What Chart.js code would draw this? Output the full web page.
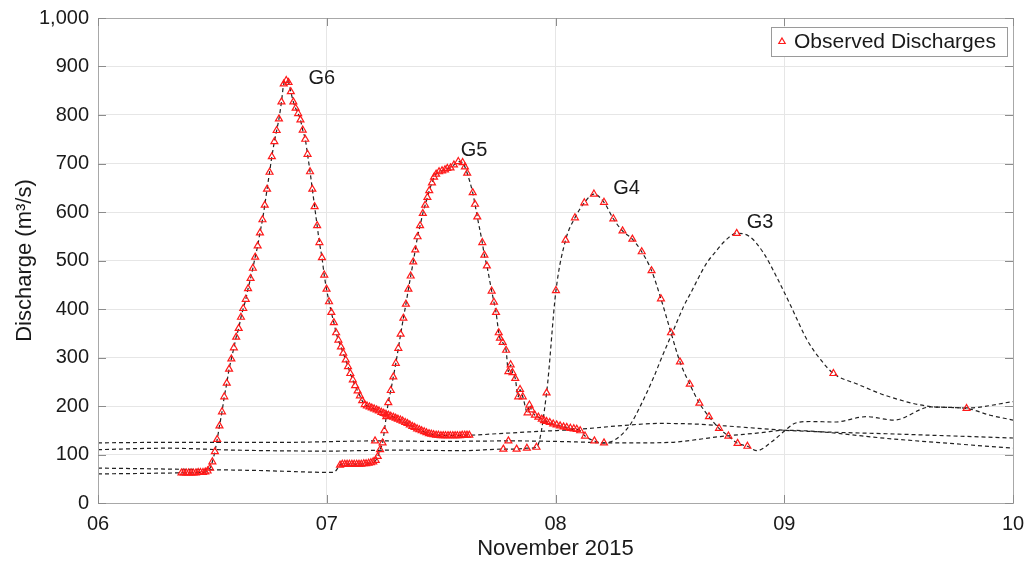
<!DOCTYPE html>
<html>
<head>
<meta charset="utf-8">
<script src="https://cdn.jsdelivr.net/npm/chart.js@4.4.1/dist/chart.umd.min.js"></script>
<style>
  html, body { margin: 0; padding: 0; background: #fff; }
  #wrap { width: 1028px; height: 562px; }
</style>
</head>
<body>
<div id="wrap"><canvas id="hydroChart" width="1028" height="562"></canvas></div>
<script>
// observed discharges, time in days of November 2015
const obsG6Time = [
  6.365, 6.375, 6.386, 6.396, 6.407, 6.417, 6.428, 6.438, 6.448, 6.459,
  6.469, 6.479, 6.490, 6.500, 6.511, 6.521, 6.531, 6.542, 6.552, 6.563,
  6.573, 6.583, 6.594, 6.604, 6.615, 6.625, 6.635, 6.646, 6.656, 6.667,
  6.677, 6.687, 6.698, 6.708, 6.719, 6.729, 6.739, 6.750, 6.760, 6.771,
  6.781, 6.791, 6.802, 6.812, 6.823, 6.833, 6.843, 6.854, 6.864, 6.875,
  6.885, 6.895, 6.906, 6.916, 6.927, 6.937, 6.947, 6.958, 6.968, 6.979,
  6.989, 6.999, 7.010, 7.020, 7.031, 7.041, 7.051, 7.062, 7.072, 7.083,
  7.093, 7.103, 7.114, 7.124, 7.135, 7.145, 7.155, 7.166, 7.176, 7.187,
  7.197, 7.207, 7.218, 7.228, 7.239, 7.249, 7.259, 7.270, 7.280, 7.291,
  7.301, 7.311, 7.322, 7.332, 7.343, 7.353, 7.363, 7.374, 7.384, 7.395,
  7.405, 7.415, 7.426, 7.436, 7.447, 7.457, 7.467, 7.478, 7.488, 7.499,
  7.509, 7.519, 7.530, 7.540, 7.551, 7.561, 7.571, 7.582, 7.592, 7.603,
  7.613, 7.623
];
const obsG6Flow = [
  62, 62, 62, 62, 62, 62, 62, 63, 63, 63,
  64, 66, 72, 85, 106, 131, 159, 188, 219, 247,
  276, 297, 320, 342, 360, 383, 401, 420, 442, 463,
  484, 507, 530, 557, 584, 614, 647, 682, 714, 745,
  768, 792, 827, 864, 871, 867, 848, 827, 814, 803,
  790, 769, 750, 719, 683, 647, 611, 572, 537, 506,
  470, 441, 415, 393, 372, 351, 336, 322, 309, 295,
  281, 267, 254, 242, 231, 221, 211, 203, 200, 198,
  196, 194, 192, 190, 187, 185, 183, 181, 179, 177,
  175, 173, 171, 169, 166, 164, 161, 158, 156, 153,
  151, 149, 147, 145, 143, 142, 141, 140, 140, 139,
  139, 139, 139, 139, 139, 139, 139, 139, 140, 140,
  140, 140
];

const obsG5Time = [
  7.058, 7.068, 7.079, 7.089, 7.099, 7.110, 7.120, 7.131, 7.141, 7.151,
  7.162, 7.172, 7.183, 7.193, 7.203, 7.214, 7.223, 7.233, 7.244, 7.252,
  7.260, 7.269, 7.280, 7.291, 7.302, 7.313, 7.323, 7.335, 7.346, 7.357,
  7.367, 7.378, 7.387, 7.397, 7.408, 7.420, 7.430, 7.440, 7.448, 7.460,
  7.469, 7.478, 7.491, 7.504, 7.517, 7.527, 7.541, 7.556, 7.575, 7.594,
  7.604, 7.614, 7.638, 7.648, 7.658, 7.680, 7.689, 7.700, 7.721, 7.731,
  7.740, 7.752, 7.757, 7.769, 7.784, 7.794, 7.804, 7.812, 7.824, 7.837,
  7.845, 7.857, 7.878, 7.886, 7.895, 7.910, 7.925, 7.940, 7.950, 7.961,
  7.975, 7.990, 8.005, 8.020, 8.035, 8.049, 8.065, 8.080, 8.093, 8.108,
  8.129, 8.170, 8.212
];
const obsG5Flow = [
  78, 80, 80, 80, 80, 80, 80, 80, 80, 80,
  81, 81, 82, 83, 85, 88, 96, 110, 124, 149,
  178, 207, 232, 260, 288, 319, 348, 381, 410, 441,
  468, 497, 522, 549, 572, 597, 614, 630, 644, 660,
  672, 678, 683, 685, 687, 690, 691, 697, 704, 702,
  693, 680, 640, 616, 590, 537, 511, 489, 437, 414,
  393, 351, 340, 331, 315, 271, 285, 269, 257, 219,
  234, 219, 186, 202, 192, 181, 177, 173, 170, 168,
  166, 163, 161, 159, 157, 156, 154, 153, 152, 149,
  138, 128, 124
];

const obsG4Time = [
  7.772, 7.830, 7.875, 7.917, 7.961, 8.002, 8.044, 8.085, 8.126, 8.168,
  8.212, 8.253, 8.293, 8.336, 8.377, 8.420, 8.461, 8.505, 8.544, 8.587,
  8.629, 8.671, 8.715, 8.756, 8.796, 8.839
];
const obsG4Flow = [
  111, 111, 113, 115, 227, 438, 542, 588, 619, 637,
  620, 586, 561, 544, 518, 479, 421, 351, 291, 245,
  206, 178, 154, 138, 123, 117
];

const obsG3Time = [7.211, 7.794, 8.792, 9.215, 9.797];
const obsG3Flow = [128, 128, 556, 267, 195];

// hydrograph parts outside the observed windows
const g6HeadTime = [6.0, 6.2];
const g6HeadFlow = [60, 61];
const g6TailTime = [7.75, 7.9, 8.1, 8.3, 8.45, 8.6, 8.8, 9.0, 9.5, 10.0];
const g6TailFlow = [143, 147, 152, 160, 164, 163, 157, 150, 142, 134];

const g5HeadTime = [6.0, 6.3, 6.7, 7.03];
const g5HeadFlow = [72, 70, 67, 63];
const g5TailTime = [8.35, 8.5, 8.72, 8.9, 9.0, 9.5, 10.0];
const g5TailFlow = [124, 125, 137, 145, 150, 131, 113];

const g4HeadTime = [6.0, 6.3, 6.6, 7.0, 7.3, 7.6];
const g4HeadFlow = [110, 113, 109, 107, 109, 108];
const g4TailTime = [8.88, 8.95, 9.0, 9.05, 9.12, 9.22, 9.36, 9.48, 9.64, 9.80, 10.0];
const g4TailFlow = [108, 128, 148, 165, 168, 167, 178, 171, 198, 196, 209];

const g3LineTime = [
  6.0, 6.3, 6.8, 7.211, 7.5, 7.794, 8.0, 8.15, 8.212, 8.24,
  8.28, 8.33, 8.37, 8.43, 8.46, 8.51, 8.56, 8.59, 8.66, 8.70,
  8.74, 8.792, 8.85, 8.91, 8.97, 9.03, 9.10, 9.16, 9.215, 9.32,
  9.46, 9.64, 9.797, 9.90, 10.0
];
const g3LineFlow = [
  124, 125, 125, 128, 127, 128, 127, 125, 124, 126,
  137, 164, 199, 260, 295, 350, 405, 432, 494, 518,
  540, 556, 549, 515, 463, 405, 336, 295, 267, 245,
  219, 199, 195, 181, 171
];

const gaugeNames = ['G6', 'G5', 'G4', 'G3'];
const gaugeLabelTime = [6.978, 7.644, 8.311, 8.894];
const gaugeLabelFlow = [876, 726, 649, 578];

const dayTicks = ['06', '07', '08', '09', '10'];

const pts = (t, q) => t.map((x, i) => ({x: x, y: q[i]}));

const g6Line = pts(g6HeadTime, g6HeadFlow).concat(pts(obsG6Time, obsG6Flow), pts(g6TailTime, g6TailFlow));
const g5Line = pts(g5HeadTime, g5HeadFlow).concat(pts(obsG5Time, obsG5Flow), pts(g5TailTime, g5TailFlow));
const g4Line = pts(g4HeadTime, g4HeadFlow).concat(pts(obsG4Time, obsG4Flow), pts(g4TailTime, g4TailFlow));
const g3Line = pts(g3LineTime, g3LineFlow);
const observed = pts(obsG6Time, obsG6Flow).concat(
  pts(obsG5Time, obsG5Flow), pts(obsG4Time, obsG4Flow), pts(obsG3Time, obsG3Flow));

const FONT = '"Liberation Sans", Arial, Helvetica, sans-serif';
const TXT = '#1a1a1a';

const lineStyle = {
  borderColor: '#222',
  borderWidth: 1.2,
  borderDash: [4, 3],
  pointRadius: 0,
  fill: false,
  cubicInterpolationMode: 'monotone',
  order: 1
};

const framePlugin = {
  id: 'frame',
  afterDraw(chart) {
    const {ctx, chartArea: a, scales: {x, y}} = chart;
    ctx.save();
    // box
    ctx.strokeStyle = '#a8a8a8';
    ctx.lineWidth = 1;
    ctx.strokeRect(a.left + 0.5, a.top + 0.5, a.right - a.left, a.bottom - a.top);
    // inward ticks
    ctx.strokeStyle = '#8c8c8c';
    ctx.beginPath();
    x.ticks.forEach(t => {
      const px = Math.round(x.getPixelForValue(t.value)) + 0.5;
      ctx.moveTo(px, a.bottom); ctx.lineTo(px, a.bottom - 8);
      ctx.moveTo(px, a.top); ctx.lineTo(px, a.top + 8);
    });
    y.ticks.forEach(t => {
      const py = Math.round(y.getPixelForValue(t.value)) + 0.5;
      ctx.moveTo(a.left, py); ctx.lineTo(a.left + 8, py);
      ctx.moveTo(a.right, py); ctx.lineTo(a.right - 8, py);
    });
    ctx.stroke();

    // gauge labels
    ctx.fillStyle = TXT;
    ctx.font = '20px ' + FONT;
    ctx.textAlign = 'center';
    ctx.textBaseline = 'middle';
    gaugeNames.forEach((n, i) => {
      ctx.fillText(n, x.getPixelForValue(gaugeLabelTime[i]), y.getPixelForValue(gaugeLabelFlow[i]));
    });

    // legend box
    const w = 236, h = 29;
    const lx = a.right - 6 - w, ly = a.top + 9;
    ctx.fillStyle = '#fff';
    ctx.fillRect(lx, ly, w, h);
    ctx.strokeStyle = '#9a9a9a';
    ctx.strokeRect(lx + 0.5, ly + 0.5, w, h);
    const mx = lx + 11, my = ly + h / 2;
    ctx.strokeStyle = '#ff1a1a';
    ctx.lineWidth = 1.2;
    ctx.beginPath();
    ctx.moveTo(mx, my - 3.5);
    ctx.lineTo(mx + 3.2, my + 2);
    ctx.lineTo(mx - 3.2, my + 2);
    ctx.closePath();
    ctx.stroke();
    ctx.fillStyle = TXT;
    ctx.font = '21px ' + FONT;
    ctx.textAlign = 'left';
    ctx.fillText('Observed Discharges', lx + 23, my + 1);
    ctx.restore();
  }
};

new Chart(document.getElementById('hydroChart'), {
  type: 'line',
  data: {
    datasets: [
      {
        label: 'Observed Discharges',
        data: observed,
        showLine: false,
        pointStyle: 'triangle',
        pointRadius: 4,
        pointBorderWidth: 1.2,
        pointBorderColor: '#ff1a1a',
        pointBackgroundColor: 'rgba(255,255,255,0)',
        order: 0
      },
      Object.assign({label: 'G6', data: g6Line}, lineStyle),
      Object.assign({label: 'G5', data: g5Line}, lineStyle),
      Object.assign({label: 'G4', data: g4Line}, lineStyle),
      Object.assign({label: 'G3', data: g3Line}, lineStyle)
    ]
  },
  options: {
    responsive: false,
    animation: false,
    devicePixelRatio: 1,
    layout: {padding: {left: 12, right: 15, top: 18, bottom: 0}},
    plugins: {
      legend: {display: false},
      tooltip: {enabled: false}
    },
    scales: {
      x: {
        type: 'linear',
        min: 6,
        max: 10,
        afterFit: (s) => { s.height = 59; s.paddingLeft = 0; s.paddingRight = 0; },
        ticks: {
          stepSize: 1,
          padding: 9,
          color: TXT,
          font: {family: FONT, size: 20},
          callback: (v) => dayTicks[v - 6]
        },
        grid: {color: '#e6e6e6', drawTicks: false},
        border: {display: false},
        title: {
          display: true,
          text: 'November 2015',
          color: TXT,
          font: {family: FONT, size: 22},
          padding: {top: 0, bottom: 0}
        }
      },
      y: {
        min: 0,
        max: 1000,
        afterFit: (s) => { s.width = 86; s.paddingTop = 0; s.paddingBottom = 0; },
        ticks: {
          stepSize: 100,
          padding: 9,
          color: TXT,
          font: {family: FONT, size: 20},
          callback: (v) => v.toLocaleString('en-US')
        },
        grid: {color: '#e6e6e6', drawTicks: false},
        border: {display: false},
        title: {
          display: true,
          text: 'Discharge (m³/s)',
          color: TXT,
          font: {family: FONT, size: 22},
          padding: {top: 0, bottom: 0}
        }
      }
    }
  },
  plugins: [framePlugin]
});
</script>
</body>
</html>
